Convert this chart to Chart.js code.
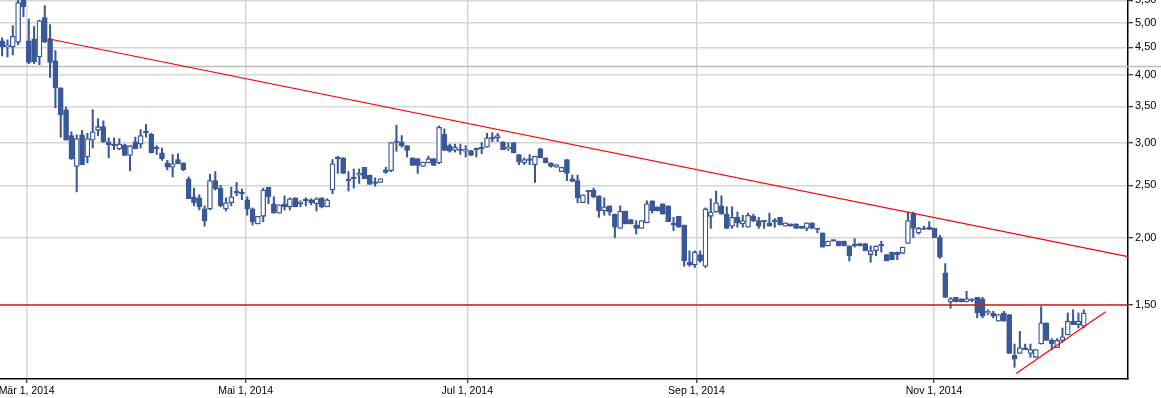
<!DOCTYPE html>
<html>
<head>
<meta charset="utf-8">
<script src="https://cdn.jsdelivr.net/npm/chart.js@4"></script>
<style>
  html, body { margin: 0; padding: 0; background: #fff; }
</style>
</head>
<body>
<canvas id="chart" width="1161" height="398"></canvas>
<script>
// daily candles, one per trading day (index 0 = first candle)
const opens = [
  4.63, 4.51, 4.51, 4.60, 5.58, 4.63, 4.67, 4.32, 5.11, 4.67,
  4.25, 3.79, 3.45, 3.09, 2.71, 3.10, 2.82, 3.03, 3.16, 3.21,
  3.01, 2.96, 2.92, 2.97, 2.84, 3.01, 2.98, 3.13, 3.11, 2.92,
  2.87, 2.75, 2.70, 2.79, 2.75, 2.57, 2.38, 2.37, 2.26, 2.26,
  2.55, 2.47, 2.26, 2.32, 2.42, 2.41, 2.35, 2.26, 2.12, 2.19,
  2.48, 2.31, 2.22, 2.31, 2.28, 2.37, 2.31, 2.34, 2.35, 2.31,
  2.37, 2.28, 2.45, 2.81, 2.81, 2.55, 2.57, 2.61, 2.70, 2.61,
  2.52, 2.53, 2.67, 2.66, 3.00, 3.01, 2.96, 2.81, 2.80, 2.71,
  2.75, 2.80, 2.75, 3.11, 2.96, 2.90, 2.90, 2.89, 2.90, 2.91,
  2.92, 2.94, 3.05, 3.06, 3.01, 2.92, 3.00, 2.85, 2.75, 2.78,
  2.73, 2.92, 2.81, 2.75, 2.70, 2.65, 2.79, 2.57, 2.55, 2.32,
  2.43, 2.45, 2.39, 2.24, 2.29, 2.21, 2.08, 2.24, 2.16, 2.11,
  2.08, 2.13, 2.34, 2.28, 2.31, 2.29, 2.13, 2.19, 2.11, 1.80,
  1.78, 1.86, 1.77, 2.19, 2.23, 2.29, 2.21, 2.10, 2.18, 2.12,
  2.09, 2.19, 2.15, 2.14, 2.13, 2.14, 2.18, 2.10, 2.12, 2.12,
  2.10, 2.08, 2.13, 2.08, 2.04, 1.93, 1.98, 1.97, 1.97, 1.93,
  1.93, 1.95, 1.95, 1.86, 1.89, 1.93, 1.86, 1.88, 1.88, 1.87,
  1.95, 2.21, 2.04, 2.08, 2.09, 2.08, 2.00, 1.72, 1.52, 1.55,
  1.54, 1.52, 1.53, 1.55, 1.54, 1.45, 1.45, 1.40, 1.45, 1.44,
  1.21, 1.22, 1.25, 1.22, 1.20, 1.27, 1.39, 1.29, 1.25, 1.29,
  1.32, 1.40, 1.38, 1.37
];
const highs = [
  4.69, 4.65, 4.94, 5.60, 5.65, 5.08, 4.92, 5.06, 5.38, 4.96,
  4.44, 3.79, 3.49, 3.14, 3.10, 3.16, 3.12, 3.45, 3.32, 3.29,
  3.06, 3.06, 3.05, 2.98, 2.96, 3.07, 3.17, 3.24, 3.12, 2.96,
  2.93, 2.78, 2.85, 2.86, 2.75, 2.59, 2.47, 2.40, 2.29, 2.62,
  2.65, 2.50, 2.37, 2.48, 2.53, 2.46, 2.38, 2.27, 2.19, 2.47,
  2.48, 2.38, 2.30, 2.39, 2.37, 2.37, 2.34, 2.37, 2.36, 2.37,
  2.37, 2.36, 2.79, 2.83, 2.81, 2.65, 2.68, 2.68, 2.70, 2.61,
  2.58, 2.57, 2.70, 3.00, 3.23, 3.09, 2.96, 2.81, 2.80, 2.76,
  2.83, 2.80, 3.22, 3.18, 2.98, 2.98, 2.98, 2.96, 2.90, 2.93,
  3.00, 3.12, 3.13, 3.12, 3.01, 3.00, 3.00, 2.85, 2.81, 2.85,
  2.83, 2.93, 2.81, 2.75, 2.73, 2.70, 2.79, 2.61, 2.61, 2.40,
  2.44, 2.47, 2.39, 2.37, 2.29, 2.21, 2.29, 2.24, 2.16, 2.15,
  2.15, 2.34, 2.34, 2.28, 2.31, 2.29, 2.18, 2.19, 2.11, 1.89,
  1.89, 1.89, 2.27, 2.36, 2.44, 2.39, 2.28, 2.28, 2.23, 2.20,
  2.22, 2.21, 2.18, 2.14, 2.22, 2.17, 2.18, 2.13, 2.12, 2.12,
  2.10, 2.13, 2.13, 2.08, 2.04, 1.97, 1.98, 1.97, 1.97, 1.93,
  1.99, 1.95, 1.95, 1.93, 1.93, 1.97, 1.86, 1.88, 1.88, 1.92,
  2.23, 2.23, 2.09, 2.10, 2.14, 2.08, 2.02, 1.79, 1.55, 1.55,
  1.54, 1.59, 1.54, 1.55, 1.55, 1.47, 1.46, 1.44, 1.46, 1.44,
  1.27, 1.34, 1.27, 1.27, 1.24, 1.49, 1.39, 1.30, 1.30, 1.36,
  1.45, 1.47, 1.45, 1.47
];
const lows = [
  4.34, 4.32, 4.36, 4.55, 5.13, 4.20, 4.20, 4.18, 4.59, 3.96,
  3.48, 3.07, 3.03, 2.79, 2.43, 2.73, 2.75, 2.93, 3.09, 3.00,
  2.81, 2.91, 2.91, 2.84, 2.66, 2.92, 2.93, 3.07, 2.87, 2.85,
  2.78, 2.67, 2.59, 2.74, 2.66, 2.36, 2.29, 2.25, 2.10, 2.25,
  2.45, 2.28, 2.24, 2.29, 2.39, 2.35, 2.20, 2.11, 2.12, 2.14,
  2.31, 2.22, 2.22, 2.25, 2.25, 2.28, 2.28, 2.29, 2.30, 2.24,
  2.27, 2.28, 2.41, 2.63, 2.63, 2.44, 2.47, 2.52, 2.57, 2.51,
  2.49, 2.53, 2.63, 2.65, 2.89, 2.94, 2.82, 2.72, 2.63, 2.71,
  2.75, 2.72, 2.74, 2.90, 2.88, 2.88, 2.85, 2.82, 2.84, 2.82,
  2.86, 2.94, 3.01, 3.01, 2.91, 2.90, 2.87, 2.73, 2.73, 2.73,
  2.53, 2.81, 2.75, 2.70, 2.70, 2.65, 2.55, 2.54, 2.32, 2.32,
  2.31, 2.37, 2.18, 2.20, 2.20, 2.00, 2.08, 2.12, 2.12, 2.03,
  2.08, 2.13, 2.22, 2.24, 2.21, 2.14, 2.06, 2.09, 1.77, 1.77,
  1.76, 1.80, 1.76, 2.08, 2.23, 2.21, 2.08, 2.08, 2.09, 2.09,
  2.09, 2.14, 2.08, 2.08, 2.10, 2.09, 2.11, 2.10, 2.10, 2.08,
  2.08, 2.06, 2.08, 2.04, 1.92, 1.93, 1.97, 1.93, 1.93, 1.81,
  1.92, 1.93, 1.89, 1.80, 1.85, 1.88, 1.81, 1.82, 1.82, 1.87,
  1.95, 2.00, 2.03, 2.07, 2.07, 2.00, 1.83, 1.55, 1.48, 1.52,
  1.52, 1.52, 1.52, 1.42, 1.42, 1.44, 1.42, 1.40, 1.40, 1.22,
  1.15, 1.22, 1.24, 1.20, 1.20, 1.27, 1.29, 1.24, 1.25, 1.28,
  1.32, 1.38, 1.36, 1.36
];
const closes = [
  4.51, 4.52, 4.72, 5.45, 5.35, 4.22, 4.23, 5.04, 4.61, 4.22,
  3.79, 3.38, 3.03, 2.80, 3.05, 2.73, 3.05, 3.14, 3.21, 3.01,
  2.97, 2.96, 2.98, 2.84, 2.96, 2.92, 3.09, 3.13, 2.87, 2.92,
  2.80, 2.70, 2.74, 2.74, 2.67, 2.36, 2.32, 2.28, 2.15, 2.55,
  2.46, 2.29, 2.32, 2.38, 2.42, 2.41, 2.26, 2.14, 2.19, 2.45,
  2.38, 2.22, 2.30, 2.28, 2.36, 2.28, 2.33, 2.34, 2.32, 2.36,
  2.28, 2.35, 2.74, 2.80, 2.63, 2.55, 2.57, 2.63, 2.57, 2.51,
  2.52, 2.57, 2.64, 3.00, 3.00, 2.96, 2.90, 2.72, 2.72, 2.76,
  2.80, 2.72, 3.20, 2.90, 2.89, 2.94, 2.90, 2.91, 2.84, 2.91,
  2.92, 3.06, 3.05, 3.09, 2.91, 2.94, 2.87, 2.76, 2.79, 2.78,
  2.83, 2.81, 2.75, 2.71, 2.73, 2.70, 2.63, 2.54, 2.37, 2.40,
  2.43, 2.38, 2.24, 2.28, 2.23, 2.09, 2.24, 2.12, 2.12, 2.08,
  2.15, 2.31, 2.24, 2.24, 2.21, 2.14, 2.11, 2.09, 1.81, 1.78,
  1.88, 1.81, 2.26, 2.23, 2.32, 2.21, 2.08, 2.18, 2.13, 2.15,
  2.20, 2.15, 2.10, 2.14, 2.10, 2.14, 2.11, 2.13, 2.10, 2.08,
  2.08, 2.13, 2.08, 2.07, 1.92, 1.97, 1.97, 1.93, 1.93, 1.85,
  1.93, 1.93, 1.89, 1.89, 1.93, 1.93, 1.81, 1.82, 1.86, 1.92,
  2.15, 2.08, 2.08, 2.07, 2.07, 2.00, 1.84, 1.55, 1.54, 1.52,
  1.52, 1.54, 1.53, 1.45, 1.43, 1.46, 1.43, 1.44, 1.40, 1.22,
  1.19, 1.25, 1.24, 1.24, 1.24, 1.39, 1.29, 1.27, 1.29, 1.31,
  1.40, 1.38, 1.40, 1.45
];

// month ticks (trading-day index) and their labels
const xTickPos = [4.6, 45.7, 87.3, 130.3, 174.9];
const xTickLabels = ["Mär 1, 2014", "Mai 1, 2014", "Jul 1, 2014", "Sep 1, 2014", "Nov 1, 2014"];
const yTickVals = [1.5, 2.0, 2.5, 3.0, 3.5, 4.0, 4.5, 5.0, 5.5];

// drawn lines
const trendTopX = [8.6, 211.3];
const trendTopY = [4.67, 1.844];
const trendLowX = [190.3, 207.1];
const trendLowY = [1.12, 1.457];
const supportLevel = 1.5;
const refLevel = 4.16;

const blue = "#3a5898";

const refLine = {
  id: "refLine",
  beforeDatasetsDraw(chart) {
    const y = Math.round(chart.scales.y.getPixelForValue(refLevel)) + 0.5;
    const ctx = chart.ctx;
    ctx.save();
    ctx.strokeStyle = "#bcbcbc";
    ctx.lineWidth = 1.5;
    ctx.beginPath();
    ctx.moveTo(chart.chartArea.left, y);
    ctx.lineTo(chart.width, y);
    ctx.stroke();
    ctx.restore();
  }
};

const bodies = opens.map((o, i) => ({ x: i, y: [Math.min(o, closes[i]), Math.max(o, closes[i])] }));
const wicks = opens.map((o, i) => ({ x: i, y: [lows[i], highs[i]] }));

new Chart(document.getElementById("chart"), {
  type: "bar",
  data: {
    datasets: [
      {
        type: "line",
        order: 0,
        data: trendTopX.map((x, i) => ({ x, y: trendTopY[i] })),
        borderColor: "#ff0000",
        borderWidth: 1.2,
        pointRadius: 0,
      },
      {
        type: "line",
        order: 0,
        data: trendLowX.map((x, i) => ({ x, y: trendLowY[i] })),
        borderColor: "#ff0000",
        borderWidth: 1.2,
        pointRadius: 0,
      },
      {
        type: "line",
        order: 0,
        data: [{ x: -0.4, y: supportLevel }, { x: 211.3, y: supportLevel }],
        borderColor: "#d02020",
        borderWidth: 1.4,
        pointRadius: 0,
      },
      {
        order: 1,
        data: bodies,
        grouped: false,
        barThickness: 5,
        maxBarThickness: 5,
        minBarLength: 1.5,
        backgroundColor: (c) => (closes[c.dataIndex] > opens[c.dataIndex] ? "#ffffff" : blue),
        borderColor: blue,
        borderWidth: 1.3,
        borderSkipped: false,
      },
      {
        order: 2,
        data: wicks,
        grouped: false,
        barThickness: 1.4,
        maxBarThickness: 1.4,
        backgroundColor: blue,
        borderWidth: 0,
      },
    ],
  },
  options: {
    responsive: false,
    animation: false,
    layout: { padding: 0 },
    plugins: { legend: { display: false }, tooltip: { enabled: false } },
    scales: {
      x: {
        type: "linear",
        position: "bottom",
        min: -0.4,
        max: 211.3,
        offset: false,
        grid: { color: "#d6d6d6", lineWidth: 1.5, offset: false, tickColor: "#000", tickLength: 4, tickWidth: 1 },
        border: { color: "#000", width: 1.5 },
        ticks: {
          autoSkip: false,
          maxRotation: 0,
          padding: 2,
          color: "#000",
          font: { family: "'Liberation Sans', Arial, sans-serif", size: 10.5 },
          callback: (v, i) => xTickLabels[i] ?? "",
        },
        afterBuildTicks: (s) => { s.ticks = xTickPos.map((v) => ({ value: v })); },
        afterFit: (s) => { s.height = 19; s.paddingLeft = 0; s.paddingRight = 0; },
      },
      y: {
        type: "logarithmic",
        position: "right",
        min: 1.094,
        max: 5.51,
        grid: { color: "#d6d6d6", lineWidth: 1.5, tickColor: "#000", tickLength: 5, tickWidth: 1 },
        border: { color: "#000", width: 1.5 },
        ticks: {
          autoSkip: false,
          padding: 2,
          color: "#000",
          font: { family: "'Liberation Sans', Arial, sans-serif", size: 11 },
          callback: (v) => Number(v).toFixed(2).replace(".", ","),
        },
        afterBuildTicks: (s) => { s.ticks = yTickVals.map((v) => ({ value: v })); },
        afterFit: (s) => { s.width = 33; s.paddingTop = 0; s.paddingBottom = 0; },
      },
    },
  },
  plugins: [refLine],
});
</script>
</body>
</html>
